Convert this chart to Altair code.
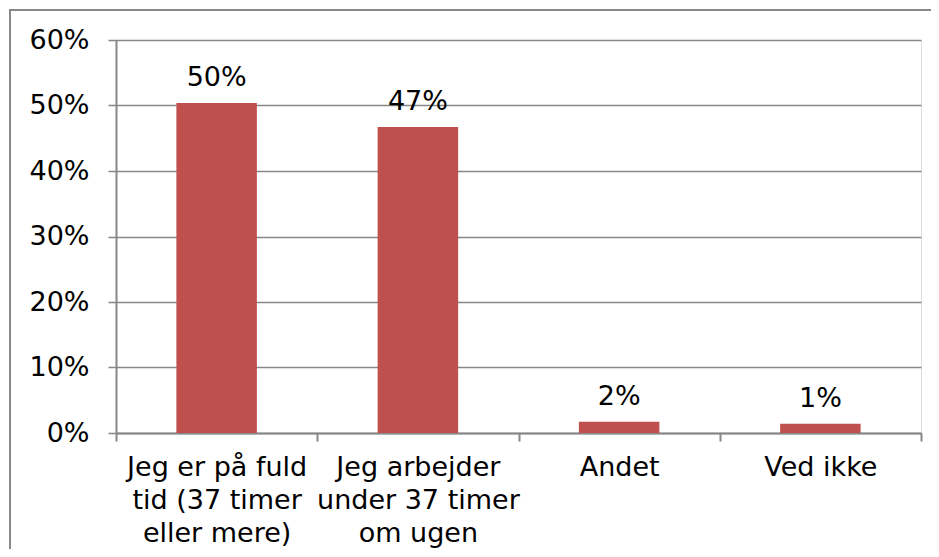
import altair as alt
import pandas as pd

categories = [
    "Jeg er på fuld\ntid (37 timer\neller mere)",
    "Jeg arbejder\nunder 37 timer\nom ugen",
    "Andet",
    "Ved ikke",
]
values = [0.504, 0.467, 0.017, 0.014]
labels = ["50%", "47%", "2%", "1%"]
y_ticks = [0, 0.1, 0.2, 0.3, 0.4, 0.5, 0.6]

df = pd.DataFrame({"cat": categories, "val": values, "lab": labels})

FONT = "DejaVu Sans"
GRAY = "#878787"
FS = 27
W, H = 805, 393

x_enc = alt.X(
    "cat:N",
    sort=None,
    title=None,
    scale=alt.Scale(paddingInner=0, paddingOuter=0),
    axis=alt.Axis(
        labelAngle=0,
        labelExpr="split(datum.label, '\\n')",
        labelFont=FONT,
        labelFontSize=FS,
        labelColor="black",
        labelLineHeight=33,
        labelBaseline="top",
        labelPadding=13,
        tickBand="extent",
        tickSize=8,
        tickColor=GRAY,
        tickWidth=2,
        domainColor=GRAY,
        domainWidth=2,
        grid=False,
        labelLimit=400,
    ),
)

y_enc = alt.Y(
    "val:Q",
    title=None,
    scale=alt.Scale(domain=[0, 0.6], nice=False),
    axis=alt.Axis(
        values=y_ticks,
        format=".0%",
        labelFont=FONT,
        labelFontSize=FS,
        labelColor="black",
        labelPadding=19,
        tickSize=8,
        tickColor=GRAY,
        tickWidth=1.5,
        domainColor=GRAY,
        domainWidth=2,
        grid=True,
        gridColor=GRAY,
        gridWidth=1.5,
    ),
)

bars = alt.Chart(df).mark_bar(
    color="#C0504D", width=alt.RelativeBandSize(0.4)
).encode(x=x_enc, y=y_enc)

text = alt.Chart(df).mark_text(
    font=FONT, fontSize=FS, color="black", dy=-17, baseline="alphabetic"
).encode(x=alt.X("cat:N", sort=None), y=alt.Y("val:Q"), text="lab:N")

frame = alt.Chart(pd.DataFrame({"a": [0]})).mark_rect(
    fill=None, stroke=GRAY, strokeWidth=2
).encode(
    x=alt.value(-106), x2=alt.value(W + 40),
    y=alt.value(-30), y2=alt.value(H + 140),
)

chart = alt.layer(frame, bars, text).properties(
    width=W, height=H,
    autosize=alt.AutoSizeParams(type="none"),
    padding={"left": 108, "top": 32, "right": 10, "bottom": 116},
).configure_view(stroke=None).configure(background="white")

chart.save("out.html", embed_options={"renderer": "svg", "actions": False})
